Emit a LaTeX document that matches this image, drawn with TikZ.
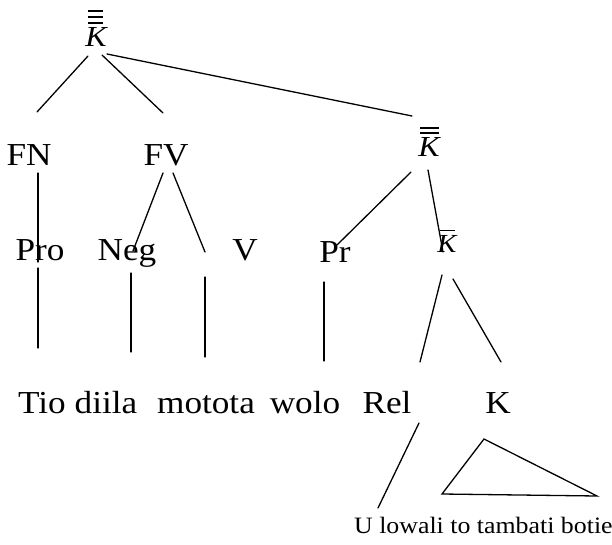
\documentclass[tikz,border=0pt]{standalone}
\usepackage{fontspec}
\setmainfont[FakeStretch=1.1]{Liberation Serif}
\begin{document}
\begin{tikzpicture}[x=1pt,y=-1pt,
  lbl/.style={font=\fontsize{32}{38}\selectfont,inner sep=0pt,anchor=base},
  cat/.style={font=\fontsize{29}{34}\selectfont\itshape,inner sep=0pt,anchor=base},
  phrase/.style={font=\fontsize{23.5}{28}\selectfont,inner sep=0pt,anchor=base west},
  branch/.style={line width=1.3pt,line cap=round},
  bar/.style={line width=1.4pt}]
\useasboundingbox (0,0) rectangle (612,545);

% category labels with bars
\node[cat] (Kt) at (96,47) {K};
\node[cat] (Km) at (429,157) {K};
\node[cat,font=\fontsize{26}{30}\selectfont\itshape] (Kb) at (447,252) {K};
\foreach \s in {5,11,17} \draw[bar] ([xshift=-8pt,yshift=\s pt]Kt.north) -- ([xshift=7pt,yshift=\s pt]Kt.north);
\foreach \s in {5,10} \draw[bar] ([xshift=-9pt,yshift=\s pt]Km.north) -- ([xshift=10pt,yshift=\s pt]Km.north);
\draw[bar] ([xshift=-7pt,yshift=4pt]Kb.north) -- ([xshift=8pt,yshift=4pt]Kb.north);

% phrase labels
\node[lbl] (FN) at (29,166) {FN};
\node[lbl] (FV) at (166,166) {FV};
\node[lbl] (Pro) at (40,260) {Pro};
\node[lbl] (Neg) at (127,260) {Neg};
\node[lbl] (V) at (245,260) {V};
\node[lbl] (Pr) at (335,262) {Pr};

% terminal words
\node[lbl] (Tio) at (42,413) {Tio};
\node[lbl] (diila) at (106,413) {diila};
\node[lbl] (motota) at (206,413) {motota};
\node[lbl] (wolo) at (305,413) {wolo};
\node[lbl] (Rel) at (387,413) {Rel};
\node[lbl] (Kw) at (498,413) {K};
\node[phrase] (clause) at (354,533) {U lowali to tambati botie};

% branch end points
\coordinate (a1) at (88,56);   \coordinate (a2) at (37,112);
\coordinate (b1) at (102,55);  \coordinate (b2) at (163,113);
\coordinate (c1) at (107,54);  \coordinate (c2) at (412,116);
\coordinate (d1) at (38,173);  \coordinate (d2) at (38,262);
\coordinate (e1) at (163,173); \coordinate (e2) at (133,251);
\coordinate (f1) at (173,173); \coordinate (f2) at (205,252);
\coordinate (g1) at (411,172); \coordinate (g2) at (337,245);
\coordinate (h1) at (428,170); \coordinate (h2) at (443,252);
\coordinate (i1) at (38,268);  \coordinate (i2) at (38,348);
\coordinate (j1) at (131,273); \coordinate (j2) at (131,352);
\coordinate (k1) at (205,277); \coordinate (k2) at (205,357);
\coordinate (l1) at (324,282); \coordinate (l2) at (324,361);
\coordinate (m1) at (442,275); \coordinate (m2) at (420,362);
\coordinate (n1) at (453,279); \coordinate (n2) at (501,362);
\coordinate (o1) at (419,423); \coordinate (o2) at (378,508);
\coordinate (t1) at (484,439); \coordinate (t2) at (442,494); \coordinate (t3) at (597,496);

% branches
\draw[branch] (a1) -- (a2);
\draw[branch] (b1) -- (b2);
\draw[branch] (c1) -- (c2);
\draw[branch] (d1) -- (d2);
\draw[branch] (e1) -- (e2);
\draw[branch] (f1) -- (f2);
\draw[branch] (g1) -- (g2);
\draw[branch] (h1) -- (h2);
\draw[branch] (i1) -- (i2);
\draw[branch] (j1) -- (j2);
\draw[branch] (k1) -- (k2);
\draw[branch] (l1) -- (l2);
\draw[branch] (m1) -- (m2);
\draw[branch] (n1) -- (n2);
\draw[branch] (o1) -- (o2);
\draw[branch,line join=miter] (t1) -- (t2) -- (t3) -- cycle;
\end{tikzpicture}
\end{document}
